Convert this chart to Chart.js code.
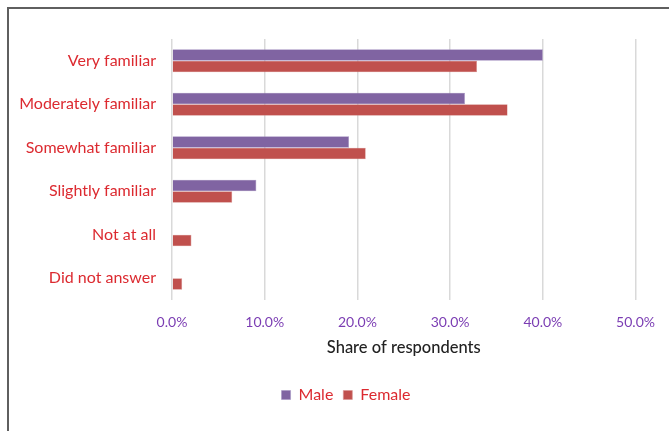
<!DOCTYPE html>
<html>
<head>
<meta charset="utf-8">
<script src="https://cdn.jsdelivr.net/npm/chart.js@4"></script>
<style>
  html, body { margin: 0; padding: 0; background: #fff; overflow: hidden; }
  #frame {
    position: absolute; left: 7px; top: 7px;
    width: 720px; height: 480px;
    border: 2px solid #5f5f5f;
  }
  #chart { position: absolute; left: 0; top: 0; }
</style>
</head>
<body>
<div id="frame"></div>
<canvas id="chart" width="669" height="431"></canvas>
<script>
"use strict";

// Familiarity levels, top to bottom.
const CATEGORIES = [
  "Very familiar",
  "Moderately familiar",
  "Somewhat familiar",
  "Slightly familiar",
  "Not at all",
  "Did not answer",
];

// Share of respondents (%) per level.
const MALE = [40.0, 31.6, 19.1, 9.1, 0, 0];
const FEMALE = [32.9, 36.2, 20.9, 6.5, 2.1, 1.1];

const X_TICKS = [0, 10, 20, 30, 40, 50];

const LABEL_RED = "#dc2a30";
const TICK_PURPLE = "#7b3db3";
const FONT = "Lato, 'Open Sans', sans-serif";

// Nudge the legend right so it sits under the middle of the plot + labels.
const legendShift = {
  id: "legendShift",
  afterLayout(chart) {
    if (chart.legend) chart.legend.left += 55;
  },
};

new Chart(document.getElementById("chart"), {
  type: "bar",
  data: {
    labels: CATEGORIES,
    datasets: [
      {
        label: "Male",
        data: MALE,
        backgroundColor: "#8064a2",
        borderColor: "#a593c2",
        borderWidth: 0.6,
        categoryPercentage: 0.53,
        barPercentage: 1,
      },
      {
        label: "Female",
        data: FEMALE,
        backgroundColor: "#c0504d",
        borderColor: "#d89290",
        borderWidth: 0.6,
        categoryPercentage: 0.53,
        barPercentage: 1,
      },
    ],
  },
  plugins: [legendShift],
  options: {
    indexAxis: "y",
    responsive: false,
    animation: false,
    layout: { padding: { left: 0, right: 32, top: 39, bottom: 18 } },
    plugins: {
      tooltip: { enabled: false },
      legend: {
        position: "bottom",
        labels: {
          boxWidth: 9,
          boxHeight: 9,
          padding: 10,
          color: LABEL_RED,
          font: { family: FONT, size: 16 },
        },
      },
    },
    scales: {
      x: {
        min: 0,
        max: 50,
        afterBuildTicks: (scale) => {
          scale.ticks = X_TICKS.map((v) => ({ value: v }));
        },
        afterFit: (scale) => { scale.height = 77; },
        grid: { color: "#d9d9d9", lineWidth: 1.5, drawTicks: false },
        border: { display: false },
        ticks: {
          padding: 14,
          color: TICK_PURPLE,
          font: { family: FONT, size: 14 },
          callback: (v) => Number(v).toFixed(1) + "%",
        },
        title: {
          display: true,
          text: "Share of respondents",
          color: "#222",
          font: { family: FONT, size: 16.5, weight: "500" },
          padding: { top: 0, bottom: 19 },
        },
      },
      y: {
        afterFit: (scale) => { scale.width = 172; },
        grid: { display: false, drawTicks: false },
        border: { display: false },
        ticks: {
          padding: 16,
          color: LABEL_RED,
          font: { family: FONT, size: 16 },
        },
      },
    },
  },
});
</script>
</body>
</html>
